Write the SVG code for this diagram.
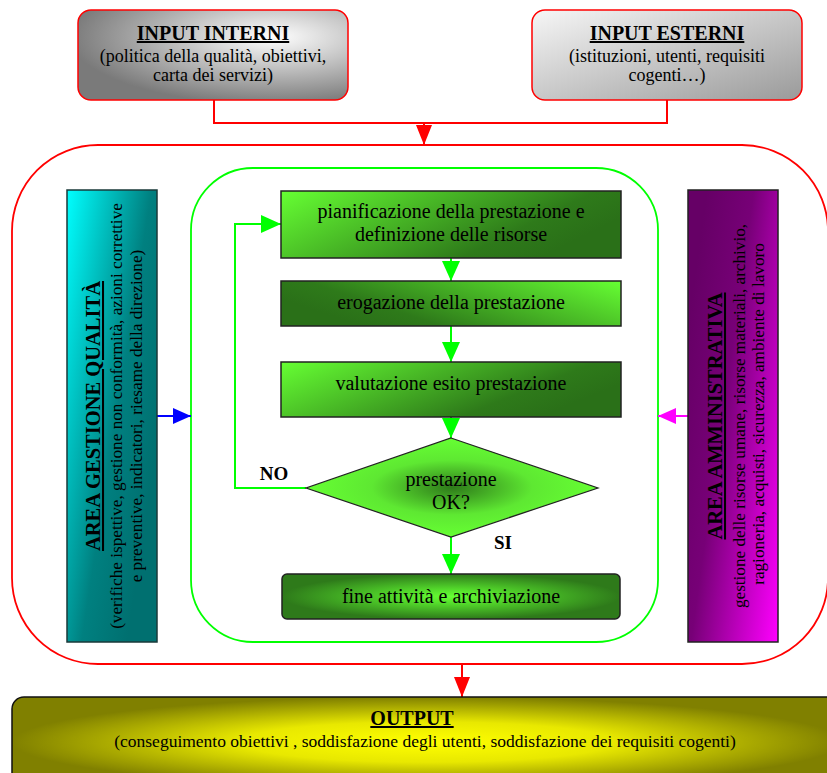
<svg xmlns="http://www.w3.org/2000/svg" width="827" height="773" viewBox="0 0 827 773">
<defs>
<style>
.t{font-family:"Liberation Serif","Times New Roman",serif;fill:#000;text-anchor:middle}
.ti{font-weight:bold;text-decoration:underline}
.b{font-weight:bold}
.red{stroke:#ff0000;stroke-width:2;fill:none}
.grn{stroke:#00ff00;stroke-width:2;fill:none}
.box{stroke:#222;stroke-width:1.5}
</style>
<radialGradient id="gInt" cx="0.72" cy="0.3" r="0.75">
<stop offset="0" stop-color="#ffffff"/><stop offset="1" stop-color="#7a7a7a"/>
</radialGradient>
<linearGradient id="gExt" x1="0" y1="0" x2="1" y2="1">
<stop offset="0" stop-color="#f6f6f6"/><stop offset="1" stop-color="#9a9a9a"/>
</linearGradient>
<linearGradient id="gBlue" x1="0" y1="0" x2="0.9" y2="0.7">
<stop offset="0" stop-color="#00ffff"/><stop offset="0.65" stop-color="#008080"/><stop offset="1" stop-color="#007070"/>
</linearGradient>
<linearGradient id="gMag" x1="0" y1="0.3" x2="1" y2="1">
<stop offset="0" stop-color="#660066"/><stop offset="0.35" stop-color="#770077"/><stop offset="1" stop-color="#ff00ff"/>
</linearGradient>
<linearGradient id="gL" x1="0" y1="0" x2="1" y2="0.4">
<stop offset="0" stop-color="#66ff33"/><stop offset="0.8" stop-color="#2e7a1a"/><stop offset="1" stop-color="#2a7018"/>
</linearGradient>
<linearGradient id="gR" x1="0" y1="0.4" x2="1" y2="0">
<stop offset="0" stop-color="#2a7018"/><stop offset="0.2" stop-color="#2e7a1a"/><stop offset="1" stop-color="#66ff33"/>
</linearGradient>
<radialGradient id="gDia" cx="0.5" cy="0.5" r="0.5">
<stop offset="0" stop-color="#2e7a1a"/><stop offset="0.55" stop-color="#5ee832"/><stop offset="1" stop-color="#66ff33"/>
</radialGradient>
<radialGradient id="gFine" cx="0.5" cy="0.5" r="0.5">
<stop offset="0" stop-color="#66ff33"/><stop offset="0.3" stop-color="#55dd2c"/><stop offset="1" stop-color="#2e7a1a"/>
</radialGradient>
<radialGradient id="gOut" cx="0.5" cy="0.5" r="0.5">
<stop offset="0" stop-color="#ffff00"/><stop offset="0.45" stop-color="#e8e800"/><stop offset="1" stop-color="#808000"/>
</radialGradient>
<marker id="aRed" markerUnits="userSpaceOnUse" markerWidth="20" markerHeight="16" refX="20" refY="8" orient="auto"><path d="M0,0L20,8L0,16z" fill="#ff0000"/></marker>
<marker id="aGrn" markerUnits="userSpaceOnUse" markerWidth="20" markerHeight="18" refX="20" refY="9" orient="auto"><path d="M0,0L20,9L0,18z" fill="#00ff00"/></marker>
<marker id="aBlue" markerUnits="userSpaceOnUse" markerWidth="18" markerHeight="16" refX="18" refY="8" orient="auto"><path d="M0,0L18,8L0,16z" fill="#0000ff"/></marker>
<marker id="aMag" markerUnits="userSpaceOnUse" markerWidth="18" markerHeight="16" refX="18" refY="8" orient="auto"><path d="M0,0L18,8L0,16z" fill="#ff00ff"/></marker>
</defs>
<rect width="827" height="773" fill="#fff"/>

<g id="outer">
<rect x="12" y="145" width="816" height="519" rx="86" fill="#fff" stroke="#ff0000" stroke-width="1.8"/>
</g>
<g id="inner">
<rect x="191" y="168" width="467" height="474" rx="62" fill="none" stroke="#00ff00" stroke-width="1.8"/>
</g>

<g id="connectors">
<path class="red" d="M214,100V123H667V100"/>
<path class="red" d="M424,123V145" marker-end="url(#aRed)"/>
<path class="red" d="M462,664V697" marker-end="url(#aRed)"/>
<path d="M157,416H191" stroke="#0000ff" stroke-width="2" fill="none" marker-end="url(#aBlue)"/>
<path d="M688,416H658" stroke="#ff00ff" stroke-width="2" fill="none" marker-end="url(#aMag)"/>
<path class="grn" d="M451,258V281" marker-end="url(#aGrn)"/>
<path class="grn" d="M451,326V362" marker-end="url(#aGrn)"/>
<path class="grn" d="M451,417V438" marker-end="url(#aGrn)"/>
<path class="grn" d="M451,537V574" marker-end="url(#aGrn)"/>
<path class="grn" d="M306,488H235V224H281" marker-end="url(#aGrn)"/>
<text class="t b" x="274" y="480" font-size="19">NO</text>
<text class="t b" x="503" y="549" font-size="19">SI</text>
</g>

<g id="input-interni">
<rect x="78" y="10" width="270" height="90" rx="13" fill="url(#gInt)" stroke="#ff0000" stroke-width="1.5"/>
<text class="t ti" x="213" y="40" font-size="20">INPUT INTERNI</text>
<text class="t" x="213" y="62" font-size="18">(politica della qualità, obiettivi,</text>
<text class="t" x="213" y="81" font-size="18">carta dei servizi)</text>
</g>

<g id="input-esterni">
<rect x="532" y="10" width="270" height="90" rx="13" fill="url(#gExt)" stroke="#ff0000" stroke-width="1.5"/>
<text class="t ti" x="667" y="40" font-size="20">INPUT ESTERNI</text>
<text class="t" x="667" y="62" font-size="18">(istituzioni, utenti, requisiti</text>
<text class="t" x="667" y="81" font-size="18">cogenti…)</text>
</g>

<g id="area-qualita">
<rect x="67" y="190" width="90" height="452" fill="url(#gBlue)" stroke="#1a3a3a" stroke-width="1.5"/>
<g transform="translate(0,416) rotate(-90)">
<text class="t ti" x="0" y="100" font-size="20.5">AREA GESTIONE QUALITÀ</text>
<text class="t" x="0" y="122" font-size="17.2">(verifiche ispettive, gestione non conformità, azioni correttive</text>
<text class="t" x="0" y="142" font-size="17.2">e preventive, indicatori, riesame della direzione)</text>
</g>
</g>

<g id="area-amministrativa">
<rect x="688" y="190" width="90" height="452" fill="url(#gMag)" stroke="#222" stroke-width="1.5"/>
<g transform="translate(0,416) rotate(-90)">
<text class="t ti" x="0" y="722" font-size="20.5">AREA AMMINISTRATIVA</text>
<text class="t" x="0" y="745" font-size="17.2">gestione delle risorse umane, risorse materiali, archivio,</text>
<text class="t" x="2" y="764" font-size="17.2">ragioneria, acquisti, sicurezza, ambiente di lavoro</text>
</g>
</g>

<g id="pianificazione">
<rect class="box" x="281" y="191" width="340" height="67" fill="url(#gL)"/>
<text class="t" x="451" y="218" font-size="20">pianificazione della prestazione e</text>
<text class="t" x="451" y="241" font-size="20">definizione delle risorse</text>
</g>

<g id="erogazione">
<rect class="box" x="281" y="281" width="340" height="45" fill="url(#gR)"/>
<text class="t" x="451" y="309" font-size="20">erogazione della prestazione</text>
</g>

<g id="valutazione">
<rect class="box" x="281" y="362" width="340" height="55" fill="url(#gL)"/>
<text class="t" x="451" y="390" font-size="20">valutazione esito prestazione</text>
</g>

<g id="decisione">
<polygon points="451,438 598,488 451,537 306,488" fill="url(#gDia)" stroke="#222" stroke-width="1.2"/>
<text class="t" x="451" y="486" font-size="20">prestazione</text>
<text class="t" x="451" y="509" font-size="20">OK?</text>
</g>

<g id="fine">
<rect class="box" x="282" y="574" width="338" height="45" rx="5" fill="url(#gFine)"/>
<text class="t" x="451" y="603" font-size="20">fine attività e archiviazione</text>
</g>

<g id="output">
<rect x="12" y="697" width="830" height="90" rx="12" fill="url(#gOut)" stroke="#111" stroke-width="1.5"/>
<text class="t ti" x="412" y="725" font-size="20">OUTPUT</text>
<text class="t" x="425" y="747" font-size="17.5">(conseguimento obiettivi , soddisfazione degli utenti, soddisfazione dei requisiti cogenti)</text>
</g>
</svg>
